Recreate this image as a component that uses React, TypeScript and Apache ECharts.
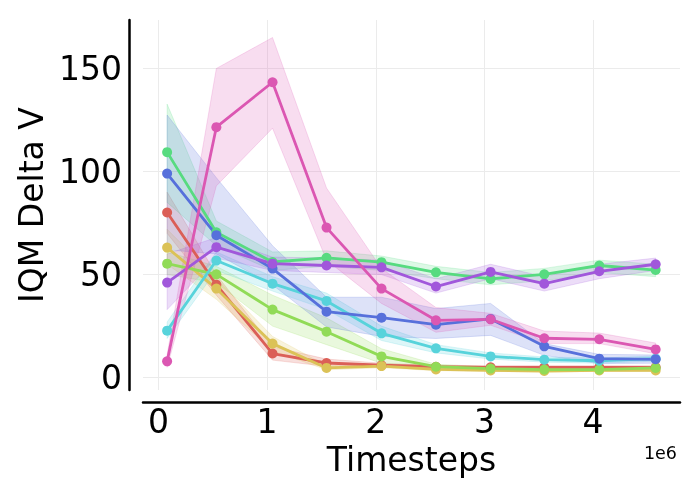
import React, { useEffect, useRef } from "react";
import * as echarts from "echarts";

const timesteps = [80000, 533000, 1050000, 1547000, 2053000, 2554000, 3057000, 3551000, 4057000, 4576000];
const xTicks = [0, 1000000, 2000000, 3000000, 4000000];
const yTicks = [0, 50, 100, 150];

const names = ["s0", "s1", "s2", "s3", "s4", "s5", "s6", "s7"];
const colors = ["#db5f57", "#dbc257", "#91db57", "#57db80", "#57d3db", "#5770db", "#a157db", "#db57b2"];

const redMean = [80.1, 45.1, 11.7, 7.1, 6.0, 5.3, 5.0, 5.0, 5.0, 5.0];
const redLo = [70, 40, 8.5, 5.5, 5.0, 4.5, 4.2, 4.2, 4.2, 4.2];
const redHi = [90, 50, 15, 9, 7, 6, 5.8, 5.8, 5.8, 5.8];

const yellowMean = [63.1, 43.2, 16.5, 4.7, 5.6, 4.0, 3.5, 3.2, 3.5, 3.5];
const yellowLo = [55, 38, 13, 3.8, 4.8, 3.4, 3.0, 2.8, 3.0, 3.0];
const yellowHi = [72, 48, 20, 5.8, 6.4, 4.6, 4.0, 3.8, 4.0, 4.0];

const limeMean = [55.3, 50.1, 33.0, 22.3, 10.3, 5.3, 4.4, 3.9, 3.9, 4.7];
const limeLo = [50, 46, 25, 16, 7, 4.3, 3.7, 3.3, 3.3, 4.0];
const limeHi = [61, 54, 40, 29, 14, 6.5, 5.2, 4.6, 4.6, 5.4];

const greenMean = [109.4, 70.5, 56.1, 58.1, 56.0, 51.1, 47.9, 50.1, 54.4, 52.2];
const greenLo = [85, 64, 52, 54, 52, 48, 45, 47, 51, 49];
const greenHi = [132.7, 76, 61, 61.5, 59, 54, 51, 53, 57, 55];

const cyanMean = [22.8, 56.8, 45.6, 37.2, 21.5, 14.2, 10.3, 8.7, 8.2, 9.2];
const cyanLo = [19, 52, 42, 33, 18, 12, 9, 7.5, 7, 8];
const cyanHi = [27, 61, 49, 41, 25, 16, 12, 10, 9.5, 10.5];

const blueMean = [99.0, 69.1, 52.9, 32.0, 29.1, 25.7, 28.5, 15.2, 9.2, 8.9];
const blueLo = [62, 60, 45, 24.6, 20, 19, 20.5, 10.8, 6.8, 7];
const blueHi = [127.4, 97, 64, 39, 39, 33.5, 36, 16.5, 11.3, 11];

const purpleMean = [46.1, 63.3, 55.3, 54.4, 53.5, 44.2, 51.3, 45.6, 51.6, 55.0];
const purpleLo = [33, 58, 52, 51, 50, 41, 48, 42, 48, 52];
const purpleHi = [60, 68, 58.5, 58, 57, 48, 55, 49, 55, 58];

const pinkMean = [7.9, 121.5, 143.3, 72.8, 43.2, 27.8, 28.3, 19.1, 18.6, 13.7];
const pinkLo = [5, 93, 121, 57, 36, 22, 25.4, 16.5, 16.5, 11.6];
const pinkHi = [11, 150, 165, 92, 53, 34, 31.2, 22.6, 21.6, 16.8];

const means = [redMean, yellowMean, limeMean, greenMean, cyanMean, blueMean, purpleMean, pinkMean];
const los = [redLo, yellowLo, limeLo, greenLo, cyanLo, blueLo, purpleLo, pinkLo];
const his = [redHi, yellowHi, limeHi, greenHi, cyanHi, blueHi, purpleHi, pinkHi];

const FONT = "DejaVu Sans";

function hexA(hex: string, a: number) {
  const r = parseInt(hex.slice(1, 3), 16);
  const g = parseInt(hex.slice(3, 5), 16);
  const b = parseInt(hex.slice(5, 7), 16);
  return `rgba(${r},${g},${b},${a})`;
}

export default function App() {
  const ref = useRef<HTMLDivElement>(null);
  useEffect(() => {
    if (!ref.current) return;
    const chart = echarts.init(ref.current, null, { renderer: "svg" });

    const bandSeries = means.map((m, k) => ({
      type: "custom",
      name: names[k] + "-band",
      z: 1,
      silent: true,
      data: timesteps.map((x, i) => [x, m[i]]),
      encode: { x: 0, y: 1 },
      renderItem: (params: any, api: any) => {
        if (params.dataIndex !== 0) return null;
        const upper = timesteps.map((x, i) => api.coord([x, his[k][i]]));
        const lower = timesteps.map((x, i) => api.coord([x, los[k][i]])).reverse();
        return {
          type: "polygon",
          shape: { points: upper.concat(lower) },
          style: { fill: hexA(colors[k], 0.2), stroke: hexA(colors[k], 0.2), lineWidth: 1 },
        };
      },
    }));

    const lineSeries = means.map((m, k) => ({
      type: "line",
      name: names[k],
      z: 3,
      data: timesteps.map((x, i) => [x, m[i]]),
      symbol: "circle",
      symbolSize: 10,
      showSymbol: true,
      lineStyle: { color: colors[k], width: 2.8 },
      itemStyle: { color: colors[k] },
    }));

    chart.setOption({
      animation: false,
      grid: { left: 143, right: 20, top: 20, bottom: 110 },
      xAxis: {
        type: "value",
        min: -142000,
        max: 4800000,
        offset: 12,
        axisLine: { show: true, onZero: false, lineStyle: { color: "#000", width: 2.5 } },
        axisTick: { show: false, customValues: xTicks },
        axisLabel: {
          customValues: xTicks,
          formatter: (v: number) => String(Math.round(v / 1e6)),
          fontSize: 33,
          color: "#000",
          fontFamily: FONT,
          margin: 3,
        },
        splitLine: { show: true, lineStyle: { color: "#ebebeb", width: 1 } },
        name: "Timesteps",
        nameLocation: "middle",
        nameGap: 40,
        nameTextStyle: { fontSize: 33, color: "#000", fontFamily: FONT },
      },
      yAxis: {
        type: "value",
        min: -6,
        max: 173.5,
        offset: 14,
        axisLine: { show: true, onZero: false, lineStyle: { color: "#000", width: 2.5 } },
        axisTick: { show: false, customValues: yTicks },
        axisLabel: {
          customValues: yTicks,
          fontSize: 33,
          color: "#000",
          fontFamily: FONT,
          margin: 7,
        },
        splitLine: { show: true, lineStyle: { color: "#ebebeb", width: 1 } },
        name: "IQM Delta V",
        nameLocation: "middle",
        nameGap: 77,
        nameTextStyle: { fontSize: 33, color: "#000", fontFamily: FONT },
      },
      graphic: [
        {
          type: "text",
          right: 23,
          top: 444,
          style: { text: "1e6", fontSize: 17.5, fill: "#000", fontFamily: FONT },
        },
      ],
      series: [...bandSeries, ...lineSeries],
    });
    return () => chart.dispose();
  }, []);
  return <div ref={ref} style={{ position: "fixed", left: 0, top: 0, width: 700, height: 500 }} />;
}
